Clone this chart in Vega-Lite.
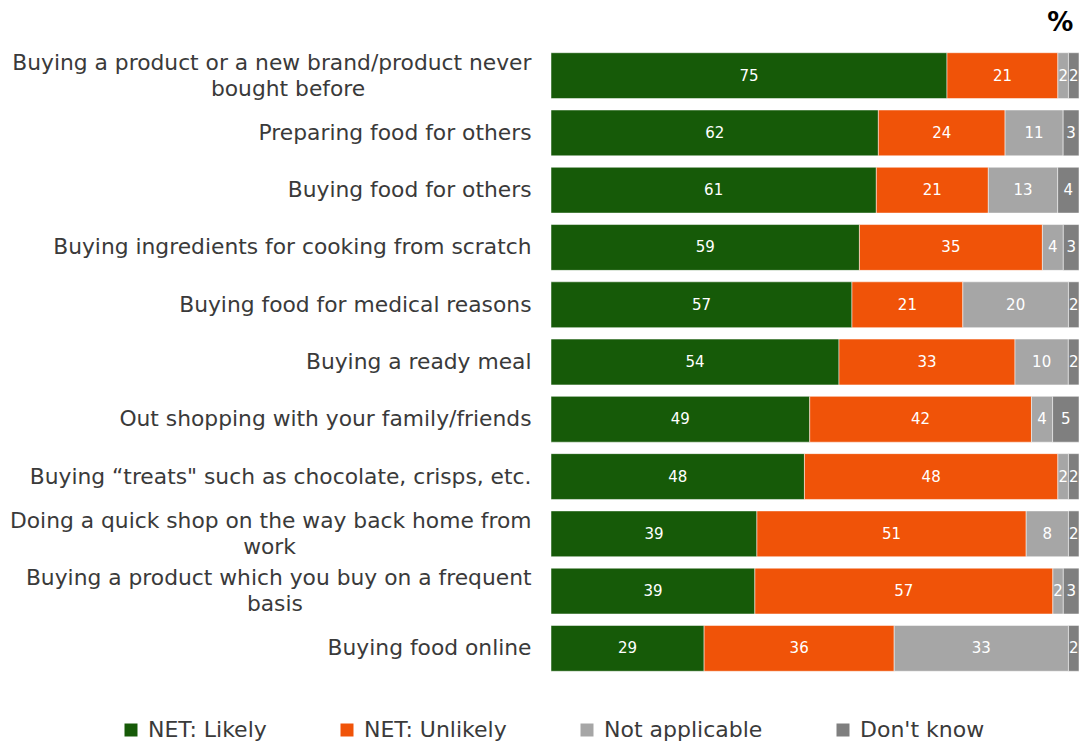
{
  "$schema": "https://vega.github.io/schema/vega-lite/v6.json",
  "width": 528,
  "height": 630,
  "autosize": {"type": "none"},
  "padding": {"left": 551, "top": 47, "right": 0, "bottom": 65},
  "background": "white",
  "title": {"text": "%", "anchor": "end", "fontSize": 26, "fontWeight": "bold", "color": "black", "font": "DejaVu Sans", "offset": 11, "dx": -6},
  "config": {"view": {"stroke": null}, "font": "DejaVu Sans"},
  "data": {"values": [
    {"q": "Buying a product or a new brand/product never|bought before", "cat": "NET: Likely", "v": 75},
    {"q": "Buying a product or a new brand/product never|bought before", "cat": "NET: Unlikely", "v": 21},
    {"q": "Buying a product or a new brand/product never|bought before", "cat": "Not applicable", "v": 2},
    {"q": "Buying a product or a new brand/product never|bought before", "cat": "Don't know", "v": 2},
    {"q": "Preparing food for others", "cat": "NET: Likely", "v": 62},
    {"q": "Preparing food for others", "cat": "NET: Unlikely", "v": 24},
    {"q": "Preparing food for others", "cat": "Not applicable", "v": 11},
    {"q": "Preparing food for others", "cat": "Don't know", "v": 3},
    {"q": "Buying food for others", "cat": "NET: Likely", "v": 61},
    {"q": "Buying food for others", "cat": "NET: Unlikely", "v": 21},
    {"q": "Buying food for others", "cat": "Not applicable", "v": 13},
    {"q": "Buying food for others", "cat": "Don't know", "v": 4},
    {"q": "Buying ingredients for cooking from scratch", "cat": "NET: Likely", "v": 59},
    {"q": "Buying ingredients for cooking from scratch", "cat": "NET: Unlikely", "v": 35},
    {"q": "Buying ingredients for cooking from scratch", "cat": "Not applicable", "v": 4},
    {"q": "Buying ingredients for cooking from scratch", "cat": "Don't know", "v": 3},
    {"q": "Buying food for medical reasons", "cat": "NET: Likely", "v": 57},
    {"q": "Buying food for medical reasons", "cat": "NET: Unlikely", "v": 21},
    {"q": "Buying food for medical reasons", "cat": "Not applicable", "v": 20},
    {"q": "Buying food for medical reasons", "cat": "Don't know", "v": 2},
    {"q": "Buying a ready meal", "cat": "NET: Likely", "v": 54},
    {"q": "Buying a ready meal", "cat": "NET: Unlikely", "v": 33},
    {"q": "Buying a ready meal", "cat": "Not applicable", "v": 10},
    {"q": "Buying a ready meal", "cat": "Don't know", "v": 2},
    {"q": "Out shopping with your family/friends", "cat": "NET: Likely", "v": 49},
    {"q": "Out shopping with your family/friends", "cat": "NET: Unlikely", "v": 42},
    {"q": "Out shopping with your family/friends", "cat": "Not applicable", "v": 4},
    {"q": "Out shopping with your family/friends", "cat": "Don't know", "v": 5},
    {"q": "Buying “treats\" such as chocolate, crisps, etc.", "cat": "NET: Likely", "v": 48},
    {"q": "Buying “treats\" such as chocolate, crisps, etc.", "cat": "NET: Unlikely", "v": 48},
    {"q": "Buying “treats\" such as chocolate, crisps, etc.", "cat": "Not applicable", "v": 2},
    {"q": "Buying “treats\" such as chocolate, crisps, etc.", "cat": "Don't know", "v": 2},
    {"q": "Doing a quick shop on the way back home from|work", "cat": "NET: Likely", "v": 39},
    {"q": "Doing a quick shop on the way back home from|work", "cat": "NET: Unlikely", "v": 51},
    {"q": "Doing a quick shop on the way back home from|work", "cat": "Not applicable", "v": 8},
    {"q": "Doing a quick shop on the way back home from|work", "cat": "Don't know", "v": 2},
    {"q": "Buying a product which you buy on a frequent|basis", "cat": "NET: Likely", "v": 39},
    {"q": "Buying a product which you buy on a frequent|basis", "cat": "NET: Unlikely", "v": 57},
    {"q": "Buying a product which you buy on a frequent|basis", "cat": "Not applicable", "v": 2},
    {"q": "Buying a product which you buy on a frequent|basis", "cat": "Don't know", "v": 3},
    {"q": "Buying food online", "cat": "NET: Likely", "v": 29},
    {"q": "Buying food online", "cat": "NET: Unlikely", "v": 36},
    {"q": "Buying food online", "cat": "Not applicable", "v": 33},
    {"q": "Buying food online", "cat": "Don't know", "v": 2}
  ]},
  "transform": [
    {"calculate": "indexof(['NET: Likely','NET: Unlikely','Not applicable',\"Don't know\"], datum.cat)", "as": "o"},
    {"stack": "v", "groupby": ["q"], "sort": [{"field": "o", "order": "ascending"}], "offset": "normalize", "as": ["s0", "s1"]},
    {"calculate": "(datum.s0 + datum.s1) / 2", "as": "mid"}
  ],
  "encoding": {
    "y": {
      "field": "q", "type": "nominal", "sort": null, "title": null,
      "scale": {"paddingInner": 0.2, "paddingOuter": 0.1},
      "axis": {
        "domain": false, "ticks": false, "labelFontSize": 21.8, "labelColor": "#3a3a3a", "labelPadding": 20, "labelLimit": 600, "labelLineHeight": 26,
        "labelOffset": {"condition": {"test": "indexof(datum.value, '|') >= 0", "value": -13}, "value": 0},
        "labelExpr": "indexof(datum.label, '|') < 0 ? datum.label : [split(datum.label, '|')[0], pad(split(datum.label, '|')[1], indexof(datum.label, 'bought') >= 0 ? 37 : 38, '\u00a0', 'right') + '\u200b']",
        "labelFont": "DejaVu Sans"
      }
    }
  },
  "layer": [
    {
      "mark": {"type": "bar", "stroke": "white", "strokeWidth": 0.5},
      "encoding": {
        "x": {"field": "s0", "type": "quantitative", "scale": {"domain": [0, 1], "nice": false}, "axis": null},
        "x2": {"field": "s1"},
        "color": {
          "field": "cat", "type": "nominal", "title": null,
          "scale": {"domain": ["NET: Likely", "NET: Unlikely", "Not applicable", "Don't know"], "range": ["#165a08", "#f05308", "#a6a6a6", "#7f7f7f"]},
          "legend": {"orient": "none", "direction": "horizontal", "legendX": -431, "legendY": 672, "symbolType": "square", "symbolSize": 169, "symbolStrokeWidth": 0, "labelFontSize": 22, "labelColor": "#3a3a3a", "labelFont": "DejaVu Sans", "columnPadding": 69, "labelOffset": 6}
        }
      }
    },
    {
      "mark": {"type": "text", "color": "white", "fontSize": 15, "baseline": "middle", "align": "center", "font": "DejaVu Sans"},
      "encoding": {
        "x": {"field": "mid", "type": "quantitative", "scale": {"domain": [0, 1], "nice": false}},
        "text": {"field": "v", "type": "quantitative"}
      }
    }
  ]
}
